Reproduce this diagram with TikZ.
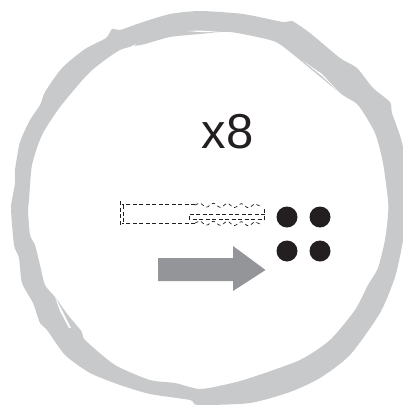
\documentclass[tikz,border=0pt]{standalone}
\usepackage{fontspec}
\setmainfont{Liberation Sans}
\usetikzlibrary{decorations.pathmorphing}
\definecolor{ringgray}{HTML}{C8C9CB}
\definecolor{arrowgray}{HTML}{939598}
\definecolor{dotblack}{HTML}{231F20}
\tikzset{
  dashline/.style={draw=dotblack,line width=0.7pt,dash pattern=on 4pt off 2.5pt},
  wavy/.style={draw=dotblack,line width=0.7pt,dash pattern=on 3.5pt off 3pt,decorate,decoration={snake,amplitude=2pt,segment length=14pt}},
  dot/.style={circle,fill=dotblack,draw=none,minimum size=21pt,inner sep=0pt}
}
\begin{document}
\begin{tikzpicture}[x=1pt,y=-1pt]
\useasboundingbox (0,0) rectangle (403,405);
% ring
\fill[ringgray,even odd rule]
  plot[smooth cycle,tension=0.4] coordinates {
   (200,11) (170,14) (140,23) (120,30) (112,29) (106,38) (85,49) (62,68) (45,92) (40,105)
   (30,120) (20,142) (15,170) (15,183) (12,200) (11,210) (14,245) (19,258) (22,283) (33,303)
   (40,323) (47,330) (65,355) (90,373) (120,385) (150,394) (190,400) (198,405) (250,403)
   (290,392) (320,378) (350,355) (380,313) (395,277) (403,240) (406,200) (403,147) (392,113)
   (390,102) (373,88) (357,68) (340,58) (310,33) (292,21) (283,22) (243,14)
  }
  plot[smooth cycle,tension=0.4] coordinates {
   (200,34) (170,37) (145,44) (120,50) (90,72) (60,107) (42,135) (32,165) (29,200)
   (28,210) (30,235) (35,245) (40,265) (45,285) (55,297) (68,315) (82,332) (85,340)
   (115,365) (150,380) (175,383) (200,389) (228,384) (250,378) (300,360) (330,340) (355,310)
   (368,285) (378,268) (385,240) (388,215) (388,200) (383,163) (375,133) (358,105) (340,93)
   (285,48) (270,40) (230,32)
  };
% brush-stroke slivers
\fill[white] (131,50) -- (136,44) -- (126,49) -- cycle;
\fill[white] (187,31) -- (200,30.5) -- (228,32.5) -- (200,32) -- cycle;
\fill[white] (55,297) -- (60,311) -- (69,328) -- (71,328) -- (62,310) -- cycle;
\fill[white] (303,61) -- (322,74) -- (340,93) -- (322,76) -- cycle;
% arrow
\fill[arrowgray] (158,258) -- (233,258) -- (233,246) -- (265.5,270) -- (233,291) -- (233,281) -- (158,281) -- cycle;
% label
\node[anchor=base,inner sep=0pt,text=dotblack,font=\fontsize{49}{49}\selectfont] (label) at (227.5,148) {x8};
% dots
\node[dot] (d1) at (287,217) {};
\node[dot] (d2) at (320,217) {};
\node[dot] (d3) at (287,251) {};
\node[dot] (d4) at (320,251) {};
% dashed plug
\draw[dashline] (195,204.5) -- (122,204.5);
\draw[dashline] (195,223) -- (122,223);
\draw[dashline] (120.5,201) -- (120.5,225);
\draw[dashline] (123,205) -- (123,223);
\draw[wavy] (195,205) -- (262,206);
\draw[wavy] (195,223) -- (262,224);
\draw[dashline] (265,214) -- (189,214) -- (189,219) -- (265,219);
\draw[dashline] (264,209) -- (264,222);
\end{tikzpicture}
\end{document}
